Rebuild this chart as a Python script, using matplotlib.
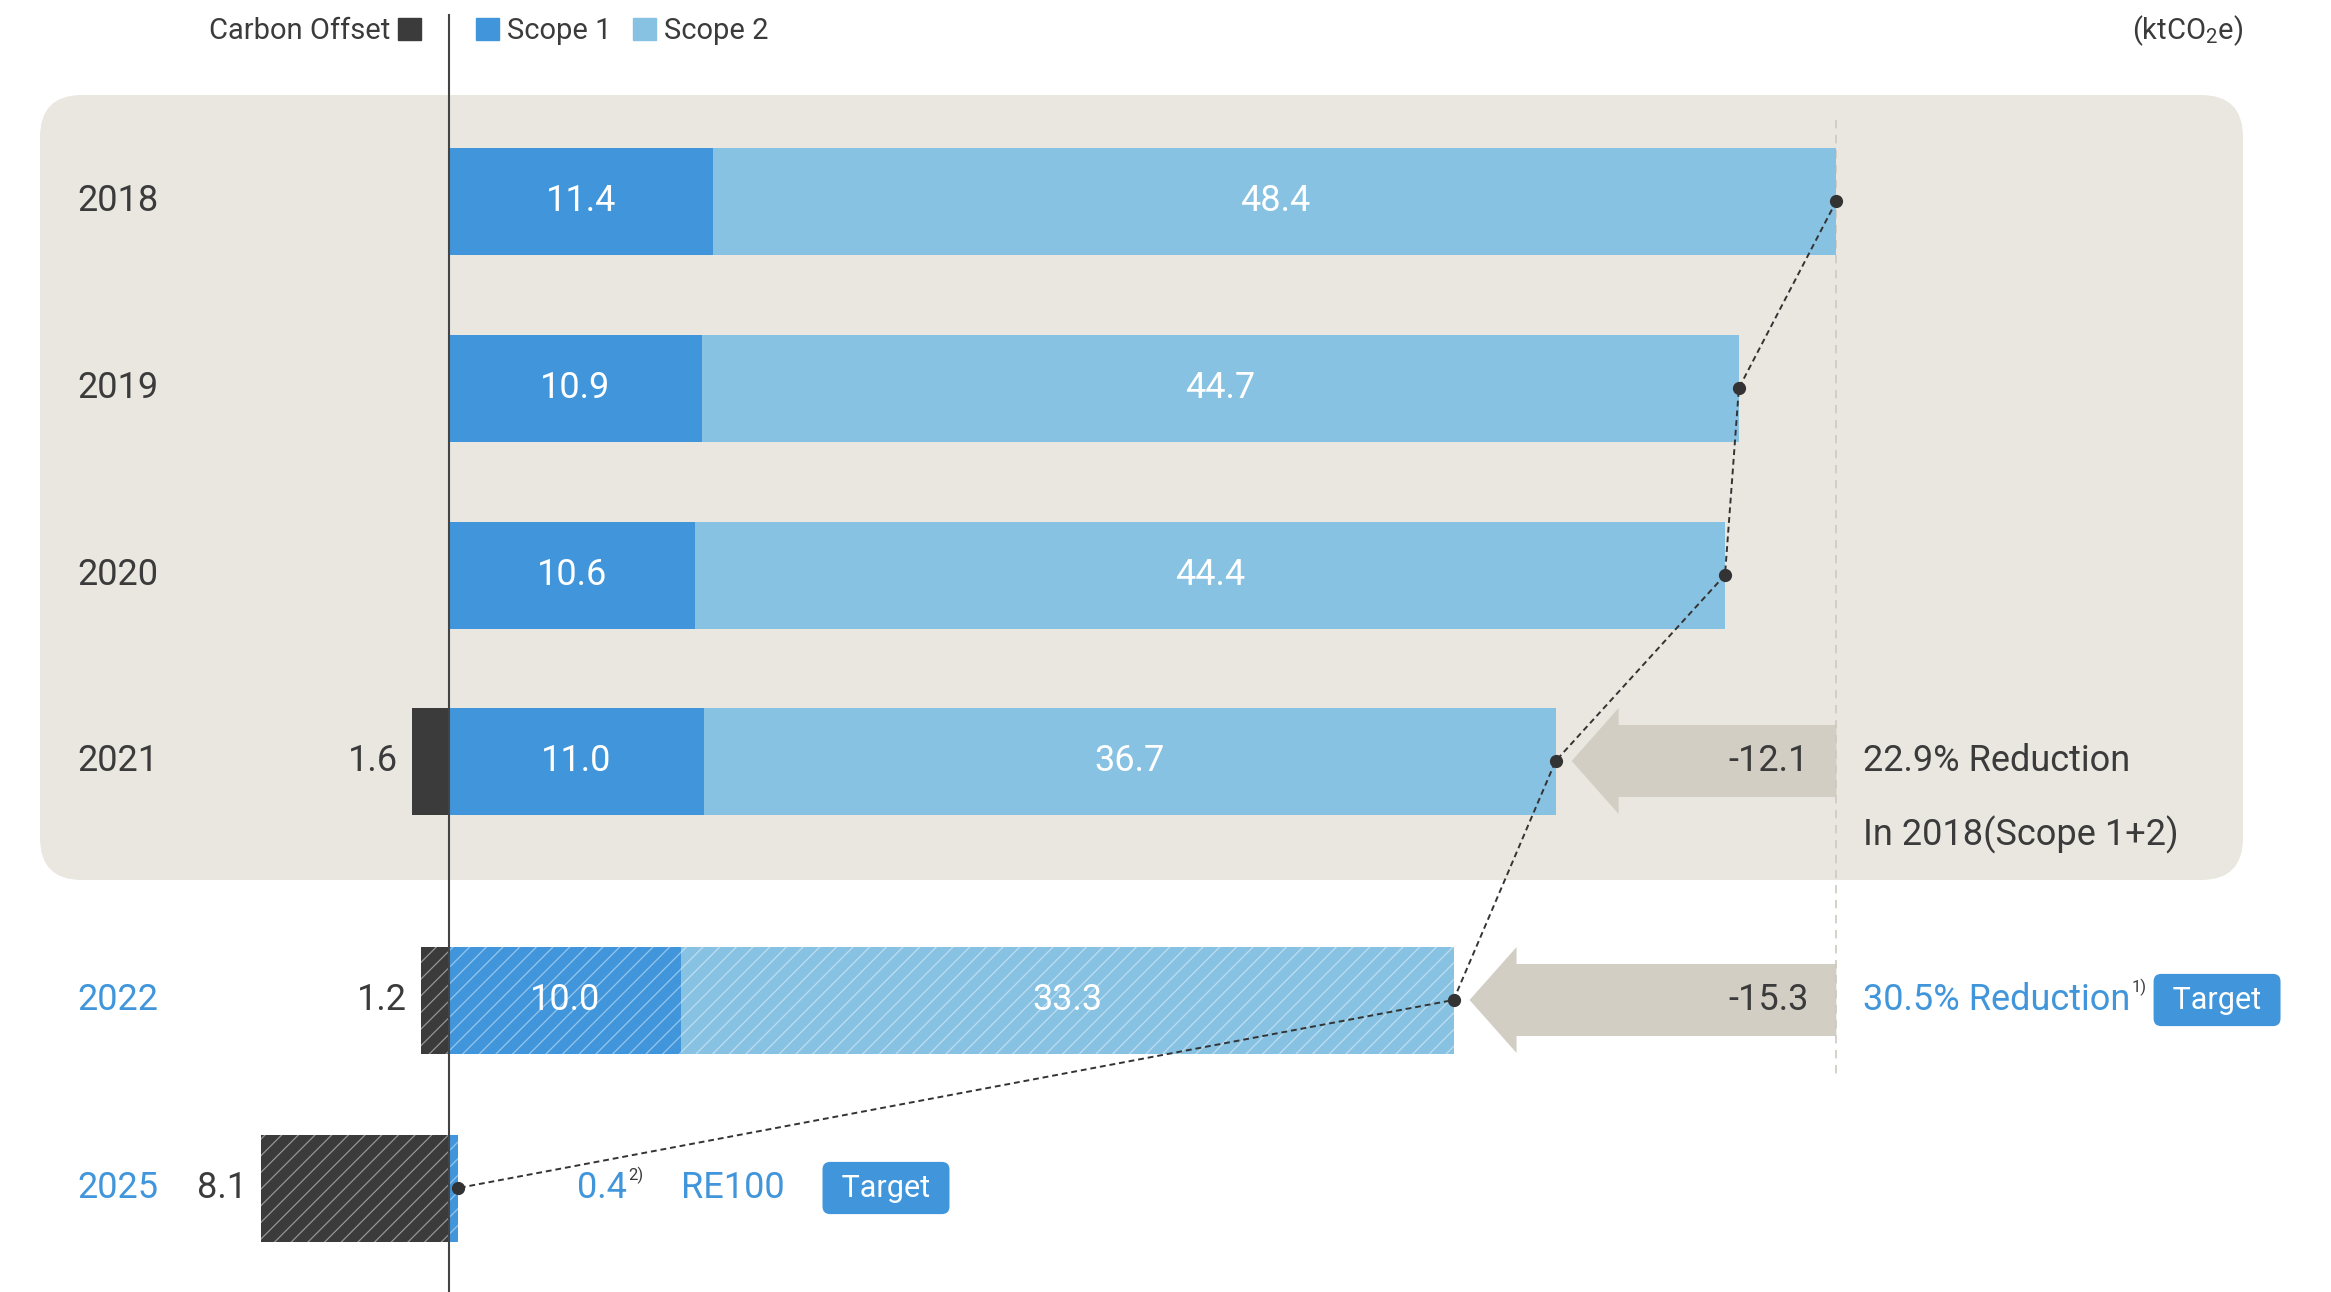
import matplotlib.pyplot as plt
from matplotlib.patches import Patch, Polygon, FancyBboxPatch

plt.rcParams['font.family'] = ['Roboto', 'DejaVu Sans']
plt.rcParams['mathtext.fontset'] = 'custom'
plt.rcParams['mathtext.rm'] = 'Roboto'
plt.rcParams['mathtext.default'] = 'regular'
plt.rcParams['hatch.linewidth'] = 0.9

# data (ktCO2e)
years = ['2018', '2019', '2020', '2021', '2022', '2025']
scope1 = [11.4, 10.9, 10.6, 11.0, 10.0, 0.4]
scope2 = [48.4, 44.7, 44.4, 36.7, 33.3, 0.0]
offset = [0, 0, 0, 1.6, 1.2, 8.1]
planned = [False, False, False, False, True, True]
reduction = [None, None, None, -12.1, -15.3, None]
reduction_txt = ['', '', '', '22.9% Reduction', '30.5% Reduction', '']

C_S1 = '#4196db'
C_S2 = '#88c2e2'
C_OFF = '#3b3b3b'
C_BG = '#e9e7e0'
C_ARROW = '#d2cec4'
C_TXT = '#3b3b3b'
C_BLUE = '#4196db'

S = 23.2  # pixels per ktCO2e


def xp(p):  # pixel layout -> axis units
    return (p - 449) / S


def yp(p):
    return p / S


fig = plt.figure(figsize=(23.31, 12.92), dpi=100)
ax = fig.add_axes([0, 0, 1, 1])
ax.set_xlim(xp(0), xp(2331))
ax.set_ylim(yp(1292), yp(0))
ax.axis('off')

row_y = [yp(v) for v in [201, 388, 575, 761, 1000, 1188]]
H = yp(107)
FS = 26

# grey box for actual years
ax.add_patch(FancyBboxPatch((xp(40), yp(95)), xp(2243) - xp(40), yp(880) - yp(95),
                            boxstyle='round,pad=0,rounding_size=%f' % yp(42),
                            fc=C_BG, ec='none', zorder=0))

b1 = ax.barh(row_y, scope1, height=H, color=C_S1, zorder=2)
b2 = ax.barh(row_y, scope2, left=scope1, height=H, color=C_S2, zorder=2)
b0 = ax.barh(row_y, [-o for o in offset], height=H, color=C_OFF, zorder=2)
for i in range(len(years)):
    if planned[i]:
        for bar, hc in ((b1[i], (1, 1, 1, 0.45)), (b2[i], (1, 1, 1, 0.45)), (b0[i], (0.7, 0.7, 0.7, 0.75))):
            bar.set_hatch('//')
            bar.set_edgecolor(hc)
            bar.set_linewidth(0)

totals = [a + b for a, b in zip(scope1, scope2)]
base = totals[0]

for i, y in enumerate(row_y):
    ax.text(xp(77), y, years[i], ha='left', va='center', fontsize=FS,
            color=C_BLUE if planned[i] else C_TXT)
    if scope1[i] >= 2:
        ax.text(scope1[i] / 2, y, '%.1f' % scope1[i], ha='center', va='center',
                fontsize=FS, color='white', zorder=4)
    if scope2[i] > 0:
        ax.text(scope1[i] + scope2[i] / 2, y, '%.1f' % scope2[i], ha='center', va='center',
                fontsize=FS, color='white', zorder=4)
    if offset[i] > 0:
        ax.text(-offset[i] - yp(14), y, '%.1f' % offset[i], ha='right', va='center',
                fontsize=FS, color=C_TXT)

# reduction arrows
for i, r in enumerate(reduction):
    if r is None:
        continue
    y = row_y[i]
    tip = totals[i] + yp(16)
    hl, sh, hh = yp(47), yp(36), yp(53)
    pts = [(base, y - sh), (tip + hl, y - sh), (tip + hl, y - hh), (tip, y),
           (tip + hl, y + hh), (tip + hl, y + sh), (base, y + sh)]
    ax.add_patch(Polygon(pts, closed=True, fc=C_ARROW, ec='none', zorder=1))
    ax.text(base - yp(28), y, '%.1f' % r, ha='right', va='center', fontsize=FS, color=C_TXT, zorder=3)

# reference line at 2018 total
ax.plot([base, base], [yp(120), yp(1080)], color='#cdc9c0', lw=1.2, ls=(0, (5, 4)), zorder=1)
# zero line
ax.plot([0, 0], [yp(15), yp(1292)], color='#444444', lw=1.5, zorder=5)

# trend line through bar ends
ax.plot(totals, row_y, color='#333333', lw=1.4, ls=(0, (3, 2)), marker='o', ms=8.5, zorder=6)

# right side notes
tx = base + yp(27)
tbox = dict(boxstyle='round,pad=0.38,rounding_size=0.25', fc=C_BLUE, ec='none')
ax.text(tx, row_y[3], reduction_txt[3], ha='left', va='center', fontsize=FS, color=C_TXT)
ax.text(tx, yp(835), 'In 2018(Scope 1+2)', ha='left', va='center', fontsize=FS, color=C_TXT)
t22 = ax.text(tx, row_y[4], reduction_txt[4], ha='left', va='center', fontsize=FS, color=C_BLUE)
s1 = ax.annotate('1)', xy=(1, 1), xycoords=t22, xytext=(1, 2), textcoords='offset points',
                 ha='left', va='top', fontsize=12, color=C_TXT)
ax.annotate(' Target ', xy=(1, row_y[4]), xycoords=(s1, 'data'), xytext=(13, 0), textcoords='offset points',
            ha='left', va='center', fontsize=22, color='white', bbox=tbox)

t25 = ax.text(xp(577), row_y[5], '%.1f' % scope1[5], ha='left', va='center', fontsize=FS, color=C_BLUE)
ax.annotate('2)', xy=(1, 1), xycoords=t25, xytext=(1, 2), textcoords='offset points',
            ha='left', va='top', fontsize=12, color=C_TXT)
ax.text(xp(681), row_y[5], 'RE100', ha='left', va='center', fontsize=FS, color=C_BLUE)
ax.text(xp(886), row_y[5], ' Target ', ha='center', va='center', fontsize=22, color='white', bbox=tbox)

# legends
lg1 = ax.legend(handles=[Patch(color=C_OFF, label='Carbon Offset')], loc='center right',
                bbox_to_anchor=(421 / 2331, 1 - 31 / 1292), bbox_transform=fig.transFigure,
                frameon=False, fontsize=21, markerfirst=False, handlelength=0.8, handleheight=0.8,
                handletextpad=0.25, borderpad=0, borderaxespad=0, labelcolor=C_TXT)
ax.add_artist(lg1)
ax.legend(handles=[Patch(color=C_S1, label='Scope 1'), Patch(color=C_S2, label='Scope 2')],
          loc='center left', bbox_to_anchor=(476 / 2331, 1 - 31 / 1292), bbox_transform=fig.transFigure,
          frameon=False, fontsize=21, ncol=2, handlelength=0.8, handleheight=0.8,
          handletextpad=0.25, columnspacing=0.75, borderpad=0, borderaxespad=0, labelcolor=C_TXT)

fig.text(2243 / 2331, 1 - 31 / 1292, '(ktCO$_2$e)', ha='right', va='center', fontsize=21, color=C_TXT)

fig.savefig('out.png', dpi=100)
